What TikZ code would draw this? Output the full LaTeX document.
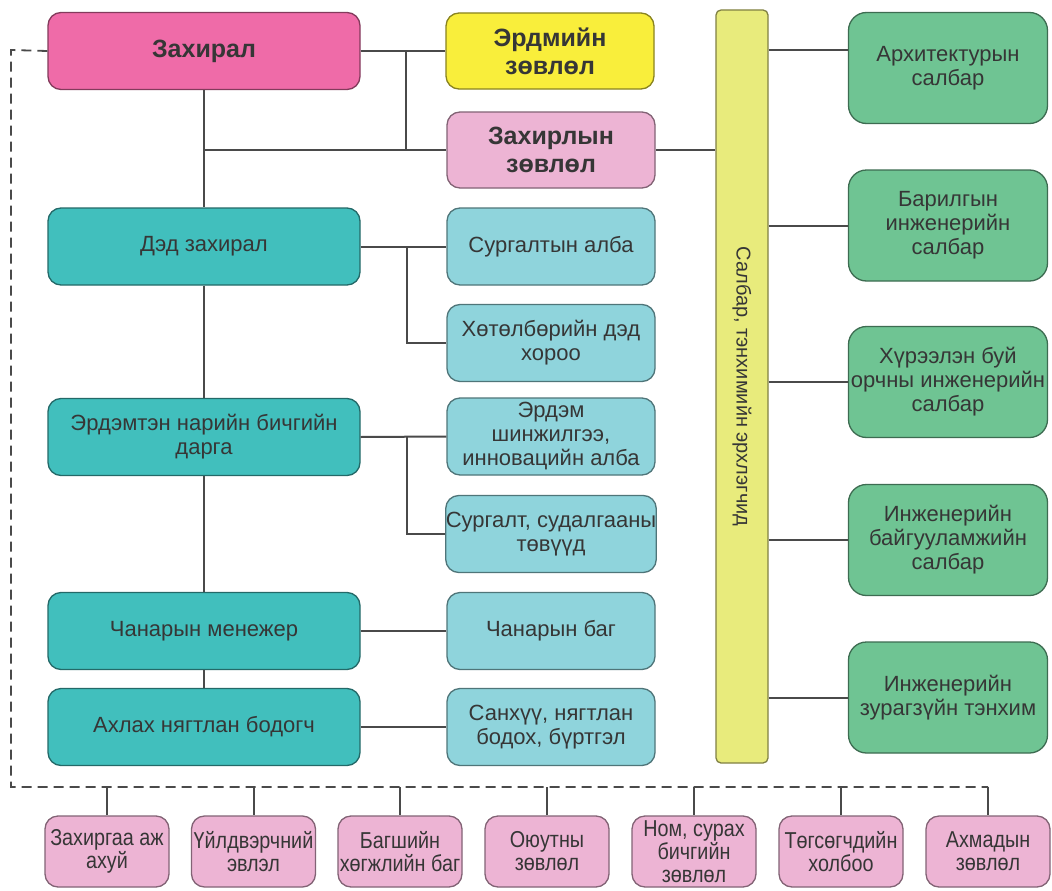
\documentclass[tikz,border=0pt]{standalone}
\usepackage{fontspec}
\setmainfont{Liberation Sans}
\newfontfamily\narrowfont{Liberation Sans}[FakeStretch=0.86]
\definecolor{cPinkA}{HTML}{EF6BA8}
\definecolor{cYellow}{HTML}{F9EE3B}
\definecolor{cPinkL}{HTML}{EDB4D4}
\definecolor{cTeal}{HTML}{41BFBD}
\definecolor{cTealL}{HTML}{8FD4DC}
\definecolor{cGreen}{HTML}{6FC493}
\definecolor{cBar}{HTML}{E8EB7C}
\definecolor{cText}{HTML}{363636}
\definecolor{cLine}{HTML}{4A4A4A}
\begin{document}
\begin{tikzpicture}[x=1pt,y=-1pt,
  basebox/.style={line width=1.3pt,rounded corners=13pt,align=center,inner sep=0pt,text=cText},
  normtext/.style={font=\fontsize{22}{24}\selectfont},
  boldtext/.style={font=\bfseries\fontsize{25}{28}\selectfont},
  topbox/.style={basebox,boldtext,minimum height=77pt},
  leftbox/.style={basebox,normtext,fill=cTeal,draw=cTeal!55!black,minimum width=312pt,minimum height=77pt},
  midbox/.style={basebox,normtext,fill=cTealL,draw=cTealL!55!black,minimum width=208pt,minimum height=77pt},
  greenbox/.style={basebox,normtext,fill=cGreen,draw=cGreen!55!black,minimum width=199pt,minimum height=111pt,rounded corners=18pt},
  botbox/.style={basebox,fill=cPinkL,draw=cPinkL!55!black,minimum width=124pt,minimum height=71pt,font=\narrowfont\fontsize{23}{23}\selectfont},
  conn/.style={draw=cLine,line width=2pt},
  dashline/.style={draw=cLine,line width=1.8pt,dash pattern=on 10pt off 6pt}
]
\useasboundingbox[fill=white] (0,0) rectangle (1052,891);

% top
\node[topbox,fill=cPinkA,draw=cPinkA!55!black,minimum width=312pt] (zah) at (204,51) {Захирал};
\node[topbox,fill=cYellow,draw=cYellow!55!black,minimum width=208pt,minimum height=76pt] (erd) at (550,51) {Эрдмийн\\зөвлөл};
\node[topbox,fill=cPinkL,draw=cPinkL!55!black,minimum width=208pt,minimum height=76pt] (zz) at (551,150) {Захирлын\\зөвлөл};

% bar
\node[draw=cBar!55!black,line width=1.3pt,fill=cBar,rounded corners=5pt,minimum width=52pt,minimum height=753pt,inner sep=0pt] (bar) at (742,386.5) {};
\node[rotate=-90,text=cText,font=\fontsize{20}{22}\selectfont,inner sep=0pt] (bartxt) at (bar.center) {Салбар, тэнхимийн эрхлэгчид};

% green
\node[greenbox] (g1) at (948,68) {Архитектурын\\салбар};
\node[greenbox] (g2) at (948,225.5) {Барилгын\\инженерийн\\салбар};
\node[greenbox] (g3) at (948,382) {Хүрээлэн буй\\орчны инженерийн\\салбар};
\node[greenbox] (g4) at (948,540) {Инженерийн\\байгууламжийн\\салбар};
\node[greenbox] (g5) at (948,697.5) {Инженерийн\\зурагзүйн тэнхим};

% left
\node[leftbox] (dz) at (204,246.5) {Дэд захирал};
\node[leftbox] (en) at (204,437) {Эрдэмтэн нарийн бичгийн\\дарга};
\node[leftbox] (ch) at (204,631) {Чанарын менежер};
\node[leftbox] (ah) at (204,727) {Ахлах нягтлан бодогч};

% middle
\node[midbox] (sa) at (551,246.5) {Сургалтын алба};
\node[midbox] (ho) at (551,343) {Хөтөлбөрийн дэд\\хороо};
\node[midbox] (ei) at (551,436.5) {Эрдэм\\шинжилгээ,\\инновацийн алба};
\node[midbox] (ss) at (551,534) {Сургалт, судалгааны\\төвүүд};
\node[midbox] (cb) at (551,631) {Чанарын баг};
\node[midbox] (sn) at (551,727) {Санхүү, нягтлан\\бодох, бүртгэл};

% bottom
\node[botbox] (b1) at (107,851.5) {Захиргаа аж\\ахуй};
\node[botbox] (b2) at (253.5,851.5) {Үйлдвэрчний\\эвлэл};
\node[botbox] (b3) at (400,851.5) {Багшийн\\хөгжлийн баг};
\node[botbox] (b4) at (547,851.5) {Оюутны\\зөвлөл};
\node[botbox] (b5) at (694,851.5) {Ном, сурах\\бичгийн\\зөвлөл};
\node[botbox] (b6) at (841,851.5) {Төгсөгчдийн\\холбоо};
\node[botbox] (b7) at (988,851.5) {Ахмадын\\зөвлөл};

% coordinates
\coordinate (j1) at (406,51);
\coordinate (j2) at (407,247);
\coordinate (j3) at (407,437);
\coordinate (gy1) at (800,50);
\coordinate (dtl) at (11,50);
\coordinate (dbl) at (11,787);
\coordinate (dbr) at (988,787);

% connectors
\draw[conn] (zah.east) -- (erd.west);
\draw[conn] (j1) -- (j1 |- zz.west);
\draw[conn] (zah.south) -- (dz.north);
\draw[conn] (dz.south) -- (en.north);
\draw[conn] (en.south) -- (ch.north);
\draw[conn] (ch.south) -- (ah.north);
\draw[conn] (zah.south |- zz.west) -- (zz.west);
\draw[conn] (zz.east) -- (zz.east -| bar.west);

\draw[conn] (dz.east) -- (sa.west);
\draw[conn] (j2) |- (ho.west);
\draw[conn] (en.east) -- (ei.west);
\draw[conn] (j3) |- (ss.west);
\draw[conn] (ch.east) -- (cb.west);
\draw[conn] (ah.east) -- (sn.west);

\draw[conn] (bar.east |- gy1) -- (g1.west |- gy1);
\draw[conn] (bar.east |- g2.west) -- (g2.west);
\draw[conn] (bar.east |- g3.west) -- (g3.west);
\draw[conn] (bar.east |- g4.west) -- (g4.west);
\draw[conn] (bar.east |- g5.west) -- (g5.west);

\draw[dashline] (zah.west) -- (dtl) -- (dbl) -- (dbr);
\foreach \b in {b1,b2,b3,b4,b5,b6,b7}{
  \draw[conn] (\b.north |- dbl) -- (\b.north);
}
\end{tikzpicture}
\end{document}
